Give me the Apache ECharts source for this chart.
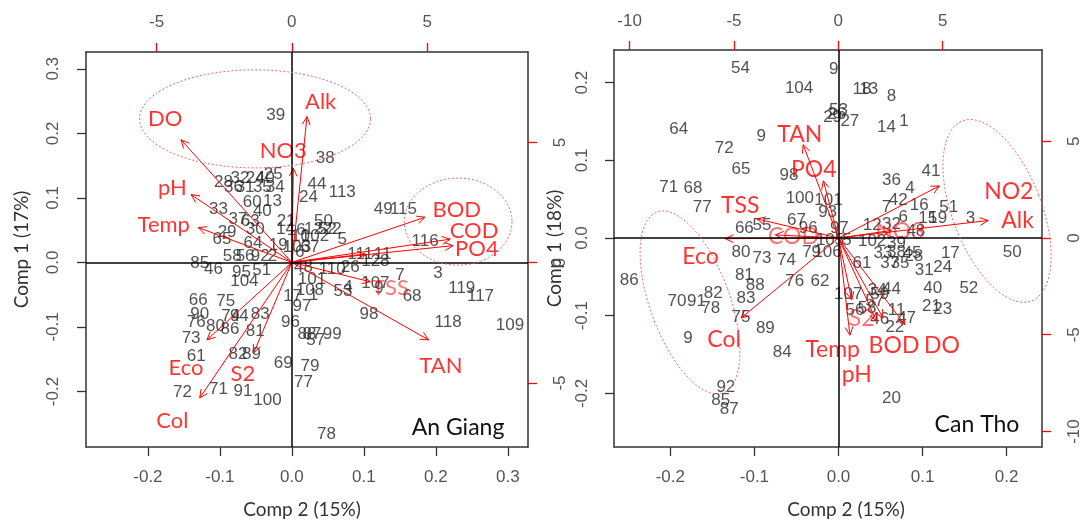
<!DOCTYPE html>
<html>
<head>
<meta charset="utf-8">
<script src="https://cdn.jsdelivr.net/npm/echarts@6.0.0/dist/echarts.min.js"></script>
<style>
  html, body { margin: 0; background: #fff; }
  #chart { width: 1083px; height: 524px; }
</style>
</head>
<body>
<div id="chart"></div>
<script>
// ---- An Giang: site scores (Comp 2 = x, Comp 1 = y) ----
const agSites = ['39','38','25','28','32','24','40','36','31','35','34','44','113','24','33','60','13','40','37','63',
  '21','50','30','14','16','12','52','10','102','29','65','64','19','103','67','5','58','56','92','2',
  '6','111','11','128','49','115','116','22','85','46','95','104','51','48','110','26','101','108','17','1',
  '53','4','7','3','9','107','68','119','117','98','118','109','66','75','90','94','74','83','76','80',
  '86','81','96','97','87','88','57','99','73','61','82','89','69','79','77','72','71','91','100','78'];
const agComp2 = [-0.0225,0.0463,-0.026,-0.095,-0.072,-0.051,-0.037,-0.081,-0.065,-0.041,-0.023,0.035,0.070,0.023,-0.102,-0.055,-0.027,-0.041,-0.075,-0.058,
  -0.008,0.044,-0.051,-0.009,0.006,0.030,0.049,0.012,0.032,-0.090,-0.097,-0.054,-0.019,0.007,0.025,0.070,-0.083,-0.065,-0.044,-0.027,
  0.011,0.095,0.126,0.116,0.127,0.155,0.185,0.056,-0.128,-0.109,-0.070,-0.066,-0.042,0.016,0.056,0.081,0.028,0.025,0.001,0.030,
  0.071,0.078,0.150,0.203,0.121,0.116,0.167,0.236,0.262,0.107,0.217,0.303,-0.130,-0.092,-0.128,-0.073,-0.085,-0.044,-0.133,-0.106,
  -0.086,-0.051,-0.002,0.014,0.028,0.021,0.033,0.056,-0.140,-0.133,-0.075,-0.056,-0.012,0.025,0.016,-0.152,-0.102,-0.068,-0.034,0.048];
const agComp1 = [0.228,0.162,0.136,0.124,0.131,0.131,0.131,0.116,0.116,0.116,0.116,0.121,0.108,0.101,0.082,0.093,0.095,0.079,0.067,0.064,
  0.064,0.064,0.052,0.052,0.049,0.052,0.052,0.041,0.041,0.047,0.036,0.030,0.026,0.024,0.024,0.036,0.009,0.009,0.009,0.010,
  0.016,0.012,0.012,0.002,0.082,0.082,0.033,0.052,-0.002,-0.011,-0.015,-0.029,-0.012,-0.007,-0.011,-0.007,-0.026,-0.043,-0.053,-0.051,
  -0.045,-0.038,-0.020,-0.017,-0.040,-0.033,-0.052,-0.040,-0.052,-0.081,-0.093,-0.098,-0.058,-0.061,-0.080,-0.084,-0.084,-0.080,-0.093,-0.099,
  -0.104,-0.107,-0.093,-0.068,-0.112,-0.112,-0.120,-0.112,-0.117,-0.145,-0.143,-0.142,-0.156,-0.161,-0.186,-0.202,-0.197,-0.199,-0.213,-0.267];

// ---- An Giang: variables (arrow tips and label places) ----
const agVars    = ['DO','Alk','NO3','pH','Temp','BOD','COD','PO4','TSS','TAN','Eco','S2','Col','NO2'];
const agTipC2   = [-0.154,0.021,0.002,-0.140,-0.130,0.185,0.220,0.224,0.109,0.190,-0.118,-0.053,-0.128,0.102];
const agTipC1   = [0.190,0.226,0.146,0.105,0.054,0.070,0.036,0.026,-0.030,-0.120,-0.120,-0.140,-0.210,0.013];
const agLabC2   = [-0.176,0.040,-0.012,-0.166,-0.178,0.229,0.253,0.257,0.137,0.207,-0.147,-0.068,-0.166,null];
const agLabC1   = [0.223,0.249,0.172,0.116,0.058,0.082,0.049,0.021,-0.040,-0.161,-0.163,-0.173,-0.245,null];
const agFaint   = ['TSS'];
// groups circled: [centre c2, centre c1, radius c2, radius c1, tilt deg]
const agGroups  = [[-0.0512,0.2224,0.1605,0.076,0],[0.231,0.0632,0.0748,0.0675,0]];

// ---- Can Tho: site scores ----
const ctSites = ['54','9','104','18','13','8','53','26','29','27','14','1','64','9','72','65','98','71','68','36',
  '41','4','100','101','93','77','7','42','16','51','6','15','19','3','67','96','97','12','32','48',
  '102','39','66','55','50','80','73','74','79','106','33','38','45','17','61','37','35','28','31','24',
  '86','81','88','76','62','34','44','40','52','70','91','82','78','83','107','75','89','9','84','11',
  '21','23','46','47','22','56','58','57','59','92','85','87','20','105','5'];
const ctComp2 = [-0.1166,-0.0057,-0.0469,0.028,0.036,0.063,0.0,-0.002,-0.007,0.0135,0.057,0.078,-0.190,-0.092,-0.136,-0.116,-0.059,-0.202,-0.173,0.063,
  0.110,0.085,-0.046,-0.012,-0.013,-0.162,0.057,0.071,0.096,0.131,0.077,0.106,0.118,0.157,-0.050,-0.036,0.001,0.040,0.063,0.092,
  0.040,0.069,-0.112,-0.091,0.2066,-0.116,-0.091,-0.062,-0.032,-0.013,0.053,0.069,0.0875,0.133,0.028,0.061,0.073,0.0896,0.102,0.124,
  -0.249,-0.112,-0.099,-0.052,-0.022,0.046,0.063,0.112,0.155,-0.192,-0.169,-0.149,-0.152,-0.110,0.0115,-0.116,-0.087,-0.179,-0.067,0.069,
  0.1105,0.124,0.049,0.081,0.067,0.0196,0.034,0.043,0.049,-0.134,-0.140,-0.130,0.063,-0.010,0.010];
const ctComp1 = [0.218,0.217,0.193,0.192,0.192,0.183,0.165,0.159,0.156,0.150,0.142,0.150,0.140,0.131,0.116,0.088,0.081,0.065,0.064,0.074,
  0.086,0.064,0.051,0.048,0.033,0.039,0.040,0.048,0.042,0.040,0.027,0.025,0.025,0.025,0.0225,0.0128,0.0128,0.016,0.0174,0.0085,
  -0.004,-0.0073,0.0128,0.016,-0.018,-0.019,-0.026,-0.029,-0.019,-0.019,-0.020,-0.019,-0.020,-0.020,-0.033,-0.033,-0.033,-0.024,-0.041,-0.038,
  -0.055,-0.0485,-0.0605,-0.056,-0.056,-0.067,-0.066,-0.065,-0.065,-0.081,-0.081,-0.071,-0.090,-0.078,-0.073,-0.102,-0.116,-0.129,-0.1465,-0.0925,
  -0.088,-0.0916,-0.105,-0.103,-0.115,-0.0925,-0.090,-0.082,-0.073,-0.1916,-0.2095,-0.220,-0.206,-0.003,-0.003];

// ---- Can Tho: variables ----
const ctVars  = ['TAN','PO4','TSS','COD','Eco','Col','NO2','Alk','NO3','Temp','pH','S2','BOD','DO'];
const ctTipC2 = [-0.042,-0.018,-0.097,-0.075,-0.1346,-0.116,0.120,0.178,0.063,0.0136,0.0157,0.0453,0.053,0.079];
const ctTipC1 = [0.120,0.0736,0.0246,0.004,-0.0009,-0.103,0.067,0.0225,0.0097,-0.125,-0.0797,-0.107,-0.103,-0.1116];
const ctLabC2 = [-0.046,-0.0295,-0.117,-0.0536,-0.164,-0.136,0.2025,0.213,0.073,-0.007,0.0218,0.0275,0.066,0.123];
const ctLabC1 = [0.133,0.0885,0.0416,0.0013,-0.024,-0.131,0.0595,0.0225,0.0084,-0.1435,-0.1755,-0.104,-0.139,-0.138];
const ctFaint = ['COD','NO3','S2'];
const ctGroups = [[-0.1766,-0.0829,0.0475,0.1239,-20],[0.1885,0.0349,0.053,0.1241,-21]];

// ---- axis tick labels ----
const agTicksX = [-0.2,-0.1,0,0.1,0.2,0.3];
const agTicksY = [-0.2,-0.1,0,0.1,0.2,0.3];
const agTicksTop = [-5,0,5];
const agTicksRight = [-5,0,5];
const ctTicksX = [-0.2,-0.1,0,0.1,0.2];
const ctTicksY = [-0.2,-0.1,0,0.1,0.2];
const ctTicksTop = [-10,-5,0,5];
const ctTicksRight = [-10,-5,0,5];

const RED = '#ff0000';
const chart = echarts.init(document.getElementById('chart'));

function axis(gridIndex, position, min, max, ticks, margin, secondary, rotate) {
  return {
    type: 'value', gridIndex, position, min, max,
    splitLine: { show: false },
    axisLine: { show: true, onZero: false, lineStyle: { color: '#333', width: 1.5 } },
    axisTick: { show: true, length: 9, customValues: ticks,
      lineStyle: { color: secondary ? RED : '#333', width: 1.3 } },
    axisLabel: { show: true, customValues: ticks, margin, rotate: rotate || 0,
      color: '#555', fontSize: 17, fontFamily: 'Liberation Sans',
      formatter: v => secondary ? String(Math.round(v)) : v.toFixed(1) }
  };
}

function arrow(params, api) {
  const o = api.coord([0, 0]);
  const t = api.coord([api.value(0), api.value(1)]);
  const a = Math.atan2(t[1] - o[1], t[0] - o[0]);
  const L = 9, w = Math.PI / 7;
  const h1 = [t[0] - L * Math.cos(a - w), t[1] - L * Math.sin(a - w)];
  const h2 = [t[0] - L * Math.cos(a + w), t[1] - L * Math.sin(a + w)];
  return {
    type: 'group',
    children: [
      { type: 'line', shape: { x1: o[0], y1: o[1], x2: t[0], y2: t[1] }, style: { stroke: RED, lineWidth: 1 } },
      { type: 'polyline', shape: { points: [h1, t, h2] }, style: { stroke: RED, fill: null, lineWidth: 1 } }
    ]
  };
}

function ring(params, api) {
  const c = api.coord([api.value(0), api.value(1)]);
  const s = api.size([api.value(2), api.value(3)]);
  const phi = api.value(4) * Math.PI / 180;
  const pts = [];
  for (let i = 0; i <= 90; i++) {
    const t = i / 90 * Math.PI * 2;
    const x = s[0] * Math.cos(t), y = s[1] * Math.sin(t);
    pts.push([c[0] + x * Math.cos(phi) - y * Math.sin(phi), c[1] + x * Math.sin(phi) + y * Math.cos(phi)]);
  }
  return { type: 'polyline', shape: { points: pts },
    style: { stroke: '#e86a6a', fill: null, lineWidth: 1, lineDash: [2, 2] } };
}

function panelSeries(xi, yi, sites, c2, c1, vars, tc2, tc1, lc2, lc1, faint, groups, varSize) {
  return [
    {
      type: 'scatter', xAxisIndex: xi, yAxisIndex: yi, z: 2,
      symbol: 'circle', symbolSize: 1, itemStyle: { color: 'rgba(0,0,0,0)' },
      data: sites.map((s, i) => ({ name: s, value: [c2[i], c1[i]] })),
      label: { show: true, position: 'inside', formatter: '{b}', color: '#262626',
        fontSize: 17, fontFamily: 'Liberation Sans' },
      markLine: { silent: true, symbol: ['none', 'none'], label: { show: false },
        lineStyle: { color: '#000', width: 1.5, type: 'solid' },
        data: [{ xAxis: 0 }, { yAxis: 0 }] }
    },
    {
      type: 'custom', xAxisIndex: xi, yAxisIndex: yi, z: 3, renderItem: arrow,
      data: vars.map((v, i) => [tc2[i], tc1[i]])
    },
    {
      type: 'scatter', xAxisIndex: xi, yAxisIndex: yi, z: 4,
      symbol: 'circle', symbolSize: 1, itemStyle: { color: 'rgba(0,0,0,0)' },
      data: vars.map((v, i) => ({ name: v, value: [lc2[i], lc1[i]] })).filter(d => d.value[0] !== null)
        .map(d => faint.includes(d.name) ? Object.assign(d, { label: { opacity: 0.55 } }) : d),
      label: { show: true, position: 'inside', formatter: '{b}', color: RED,
        fontSize: varSize, fontFamily: 'Lato' }
    },
    {
      type: 'custom', xAxisIndex: xi, yAxisIndex: yi, z: 5, renderItem: ring, clip: false,
      data: groups
    }
  ];
}

const option = {
  animation: false,
  backgroundColor: '#fff',
  grid: [
    { left: 86, top: 52, width: 442, height: 398 },
    { left: 614, top: 50, width: 429, height: 400 }
  ],
  xAxis: [
    Object.assign(axis(0, 'bottom', -0.286, 0.328, agTicksX, 22, false), {
      name: 'Comp 2 (15%)', nameLocation: 'middle', nameGap: 53,
      nameTextStyle: { color: '#333', fontSize: 19, fontFamily: 'Lato', padding: [0, 10, 0, 0] } }),
    axis(0, 'top', -7.61, 8.73, agTicksTop, 21, true),
    Object.assign(axis(1, 'bottom', -0.267, 0.242, ctTicksX, 22, false), {
      name: 'Comp 2 (15%)', nameLocation: 'middle', nameGap: 53,
      nameTextStyle: { color: '#333', fontSize: 19, fontFamily: 'Lato', padding: [0, 0, 0, 36] } }),
    axis(1, 'top', -10.75, 9.76, ctTicksTop, 20, true)
  ],
  yAxis: [
    Object.assign(axis(0, 'left', -0.286, 0.326, agTicksY, 24, false, 90), {
      name: 'Comp 1 (17%)', nameLocation: 'middle', nameGap: 55,
      nameTextStyle: { color: '#333', fontSize: 19, fontFamily: 'Lato' } }),
    axis(0, 'right', -7.66, 8.76, agTicksRight, 24, true, 90),
    Object.assign(axis(1, 'left', -0.269, 0.242, ctTicksY, 23, false, 90), {
      name: 'Comp 1 (18%)', nameLocation: 'middle', nameGap: 50,
      nameTextStyle: { color: '#333', fontSize: 19, fontFamily: 'Lato' } }),
    axis(1, 'right', -10.8, 9.71, ctTicksRight, 24, true, 90)
  ],
  graphic: [
    { type: 'text', x: 458, y: 428, z: 10,
      style: { text: 'An Giang', fontSize: 23, fontFamily: 'Lato', fill: '#111', align: 'center', verticalAlign: 'middle' } },
    { type: 'text', x: 977, y: 425, z: 10,
      style: { text: 'Can Tho', fontSize: 23, fontFamily: 'Lato', fill: '#111', align: 'center', verticalAlign: 'middle' } }
  ],
  series: [
    ...panelSeries(0, 0, agSites, agComp2, agComp1, agVars, agTipC2, agTipC1, agLabC2, agLabC1, agFaint, agGroups, 22),
    ...panelSeries(2, 2, ctSites, ctComp2, ctComp1, ctVars, ctTipC2, ctTipC1, ctLabC2, ctLabC1, ctFaint, ctGroups, 23)
  ]
};

chart.setOption(option);
</script>
</body>
</html>
